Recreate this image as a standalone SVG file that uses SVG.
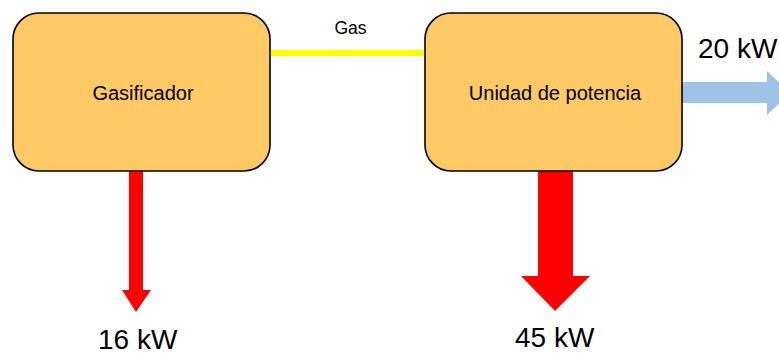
<svg xmlns="http://www.w3.org/2000/svg" width="779" height="355" viewBox="0 0 779 355">
  <style>
    .box { fill: #FFC966; stroke: #000; stroke-width: 1.6; }
    .lbl { font-family: "Liberation Sans", Arial, sans-serif; fill: #000; }
    .node { font-size: 20px; }
    .kw { font-size: 28px; }
    .heat { fill: #FF0000; }
    .elec { fill: #9DC3E6; }
  </style>
  <rect width="779" height="355" fill="#fff"/>
  <g id="connectors">
    <line x1="270" y1="53" x2="425" y2="53" stroke="#FFFF00" stroke-width="6"/>
    <text class="lbl" x="350.5" y="34" font-size="17.5" text-anchor="middle">Gas</text>
    <polygon class="heat" points="129,171 143,171 143,290 151,290 136,312 122,290 129,290"/>
    <polygon class="heat" points="538,171 573,171 573,276 590,276 555,311 521,276 538,276"/>
    <polygon class="elec" points="682,82 767,82 767,71 790,93 767,115 767,103 682,103"/>
    <text class="lbl kw" x="98" y="349">16 kW</text>
    <text class="lbl kw" x="515" y="347">45 kW</text>
    <text class="lbl kw" x="698" y="58">20 kW</text>
  </g>
  <g id="gasificador">
    <rect class="box" x="13" y="13" width="257" height="158" rx="26" ry="26"/>
    <text class="lbl node" x="143" y="100" text-anchor="middle">Gasificador</text>
  </g>
  <g id="unidad">
    <rect class="box" x="425" y="13" width="257" height="158" rx="26" ry="26"/>
    <text class="lbl node" x="555" y="100" text-anchor="middle">Unidad de potencia</text>
  </g>
</svg>
